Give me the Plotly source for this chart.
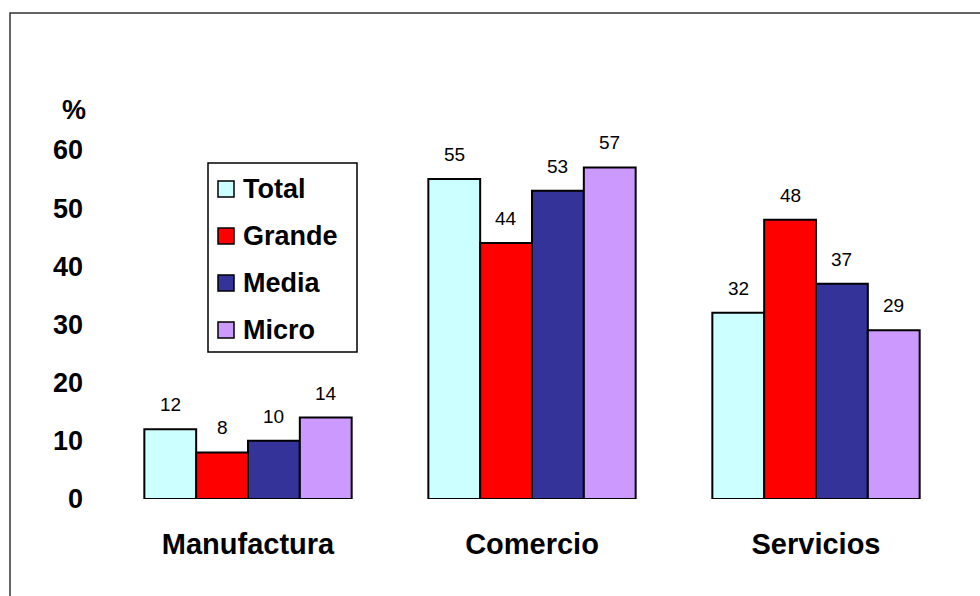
import plotly.graph_objects as go

# ---- data -------------------------------------------------------------
categories = ["Manufactura", "Comercio", "Servicios"]
series_names = ["Total", "Grande", "Media", "Micro"]
total = [12, 55, 32]
grande = [8, 44, 48]
media = [10, 53, 37]
micro = [14, 57, 29]
y_ticks = [0, 10, 20, 30, 40, 50, 60]

series_values = [total, grande, media, micro]
colors = ["#CCFFFF", "#FF0000", "#333399", "#CC99FF"]

# ---- geometry ---------------------------------------------------------
W, H = 980, 596
ML, MR, MT, MB = 106, 22, 150, 97
PW, PH = W - ML - MR, H - MT - MB
BARGAP = 0.27
FONT = "Arial, Liberation Sans, sans-serif"


def px_x(px):
    return (px - ML) / PW


def px_y(py):
    return 1 - (py - MT) / PH


fig = go.Figure()
for name, vals, col in zip(series_names, series_values, colors):
    fig.add_trace(go.Bar(
        x=categories, y=vals, name=name,
        marker=dict(color=col, line=dict(color="black", width=2)),
        showlegend=False, cliponaxis=False, hoverinfo="x+y+name",
    ))

annotations = []
# value labels above each bar
n = len(series_names)
bw = (1 - BARGAP) / n
for i, vals in enumerate(series_values):
    for c, v in enumerate(vals):
        annotations.append(dict(
            x=c + (i - (n - 1) / 2) * bw, y=v, xref="x", yref="y",
            text=str(v), showarrow=False, yanchor="bottom", yshift=12,
            font=dict(family=FONT, size=19, color="black"),
        ))

# axis unit
annotations.append(dict(
    x=px_x(74), y=px_y(110), xref="paper", yref="paper", text="<b>%</b>",
    showarrow=False, xanchor="center", yanchor="middle",
    font=dict(family=FONT, size=27, color="black"),
))

shapes = []
# legend box with swatches
shapes.append(dict(type="rect", xref="paper", yref="paper",
                   x0=px_x(208), x1=px_x(357), y0=px_y(163), y1=px_y(352),
                   line=dict(color="black", width=1.5), fillcolor="white"))
row_y = [189, 236, 283, 330]
for name, col, ry in zip(series_names, colors, row_y):
    shapes.append(dict(type="rect", xref="paper", yref="paper",
                       x0=px_x(218), x1=px_x(234), y0=px_y(ry + 8), y1=px_y(ry - 8),
                       line=dict(color="black", width=1.5), fillcolor=col))
    annotations.append(dict(
        x=px_x(241), y=px_y(ry), xref="paper", yref="paper",
        text=f"<b>{name}</b>", showarrow=False, xanchor="left", yanchor="middle",
        font=dict(family=FONT, size=27, color="black"),
    ))

# outer chart frame
shapes.append(dict(type="rect", xref="paper", yref="paper",
                   x0=px_x(10), x1=px_x(1010), y0=px_y(620), y1=px_y(13),
                   line=dict(color="#333333", width=1.5), fillcolor="rgba(0,0,0,0)",
                   layer="below"))

fig.update_layout(
    template="none",
    width=W, height=H,
    margin=dict(l=ML, r=MR, t=MT, b=MB, pad=0),
    paper_bgcolor="white", plot_bgcolor="white",
    barmode="group", bargap=BARGAP, bargroupgap=0,
    showlegend=False,
    xaxis=dict(
        type="category", showgrid=False, showline=False, zeroline=False,
        ticks="", ticklabelstandoff=25, automargin=False,
        tickfont=dict(family=FONT, size=29, color="black", weight="bold"),
    ),
    yaxis=dict(
        range=[0, 60], tickvals=y_ticks, showgrid=False, showline=False,
        zeroline=False, ticks="", ticklabelstandoff=22,
        automargin=False,
        tickfont=dict(family=FONT, size=27, color="black", weight="bold"),
    ),
    annotations=annotations,
    shapes=shapes,
)

fig.write_html("out.html")
